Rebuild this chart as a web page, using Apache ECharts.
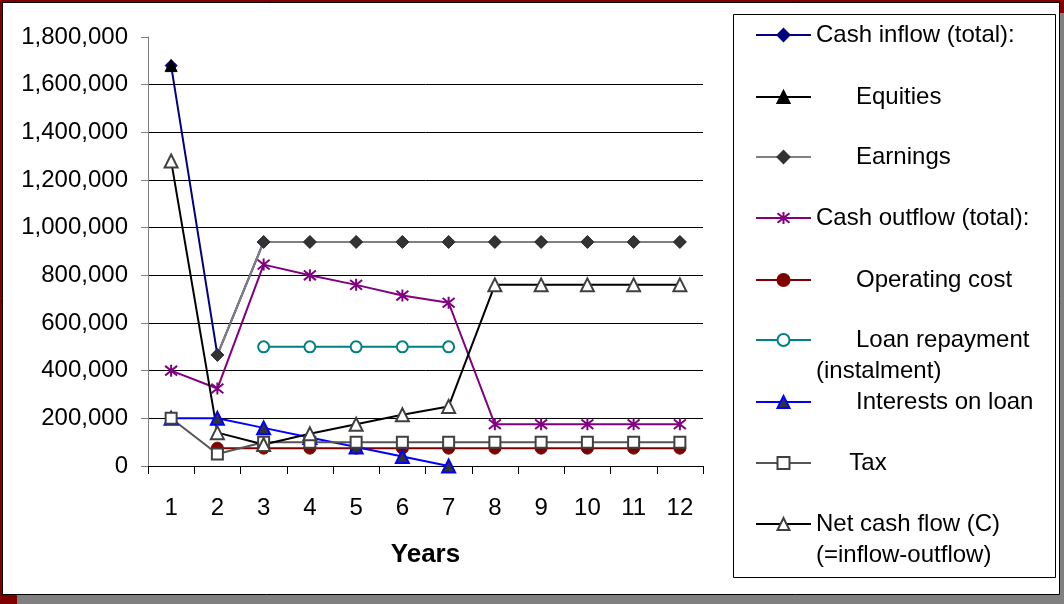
<!DOCTYPE html>
<html>
<head>
<meta charset="utf-8">
<script src="https://cdn.jsdelivr.net/npm/echarts@6/dist/echarts.min.js"></script>
<style>
html,body{margin:0;padding:0;background:#fff;}
#c{width:1064px;height:604px;}
</style>
</head>
<body>
<div id="c"></div>
<script>
// ---- data ----
var years = ['1','2','3','4','5','6','7','8','9','10','11','12'];
var cashInflow   = [1680000, 466000, 940000, 940000, 940000, 940000, 940000, 940000, 940000, 940000, 940000, 940000];
var equities     = [1680000, null, null, null, null, null, null, null, null, null, null, null];
var earnings     = [null, 466000, 940000, 940000, 940000, 940000, 940000, 940000, 940000, 940000, 940000, 940000];
var cashOutflow  = [400000, 325000, 845000, 800000, 760000, 715000, 685000, 175000, 175000, 175000, 175000, 175000];
var operatingCost= [null, 75000, 75000, 75000, 75000, 75000, 75000, 75000, 75000, 75000, 75000, 75000];
var loanRepayment= [null, null, 500000, 500000, 500000, 500000, 500000, null, null, null, null, null];
var interests    = [200000, 200000, 160000, 120000, 80000, 40000, 0, null, null, null, null, null];
var tax          = [200000, 50000, 100000, 100000, 100000, 100000, 100000, 100000, 100000, 100000, 100000, 100000];
var netCashFlow  = [1280000, 140000, 90000, 135000, 175000, 215000, 250000, 760000, 760000, 760000, 760000, 760000];
var yTicks = [0, 200000, 400000, 600000, 800000, 1000000, 1200000, 1400000, 1600000, 1800000];
var seriesNames = ['Cash inflow (total):', 'Equities', 'Earnings', 'Cash outflow (total):', 'Operating cost',
                   'Loan repayment (instalment)', 'Interests on loan', 'Tax', 'Net cash flow (C) (=inflow-outflow)'];
var legendLabels = ['Cash inflow (total):', '      Equities', '      Earnings', 'Cash outflow (total):', '      Operating cost',
                    '\n      Loan repayment\n(instalment)', '      Interests on loan', '     Tax', '\nNet cash flow (C)\n(=inflow-outflow)'];
var xAxisName = 'Years';

// ---- layout ----
var FONT = 'Liberation Sans, Arial, sans-serif';
var legendCenters = [35, 97, 157, 218, 280, 340, 402, 463, 524];
var LH = 31;
var asterisk = 'path://M10,0L10,20M1,2L19,18M1,18L19,2';

function fmt(v){ return String(v).replace(/\B(?=(\d{3})+(?!\d))/g, ','); }

var styles = [
  {data: cashInflow, line:'#000080', symbol:'diamond', size:12, fill:'#000080', border:'#000080', bw:1},
  {data: equities, line:'#000000', symbol:'triangle', size:12, fill:'#000000', border:'#000000', bw:1},
  {data: earnings, line:'#808080', symbol:'diamond', size:13, fill:'#333333', border:'#333333', bw:1},
  {data: cashOutflow, line:'#800080', symbol:asterisk, size:12, fill:'#800080', border:'#800080', bw:2},
  {data: operatingCost, line:'#800000', symbol:'circle', size:12, fill:'#800000', border:'#800000', bw:1},
  {data: loanRepayment, line:'#008080', symbol:'circle', size:11, fill:'#ffffff', border:'#008080', bw:2},
  {data: interests, line:'#0000ff', symbol:'triangle', size:13, fill:'#333333', border:'#0000ff', bw:2},
  {data: tax, line:'#555555', symbol:'rect', size:11, fill:'#ffffff', border:'#404040', bw:2},
  {data: netCashFlow, line:'#000000', symbol:'triangle', size:13, fill:'#ffffff', border:'#404040', bw:2}
];

var series = styles.map(function(s, i){
  return {
    name: seriesNames[i],
    type: 'line',
    data: s.data,
    symbol: s.symbol,
    symbolSize: s.size,
    showAllSymbol: true,
    connectNulls: false,
    lineStyle: {color: s.line, width: 2},
    itemStyle: {color: s.fill, borderColor: s.border, borderWidth: s.bw},
    emphasis: {disabled: true}
  };
});

var legends = seriesNames.map(function(n, i){
  var multi = legendLabels[i].indexOf('\n') >= 0;
  var h = multi ? LH * 3 : LH;
  return {
    data: [n],
    orient: 'vertical',
    left: 755,
    top: legendCenters[i] - h / 2,
    padding: 0,
    itemWidth: 55,
    itemHeight: 15,
    itemGap: 0,
    formatter: function(){ return legendLabels[i]; },
    textStyle: {fontFamily: FONT, fontSize: 24, color: '#000', lineHeight: LH}
  };
});

var chart = echarts.init(document.getElementById('c'), null, {renderer: 'canvas'});
chart.setOption({
  animation: false,
  backgroundColor: '#ffffff',
  graphic: [
    {type:'rect', z:-30, silent:true, shape:{x:0,y:0,width:1064,height:604}, style:{fill:'#800000'}},
    {type:'rect', z:-29, silent:true, shape:{x:17,y:13,width:1047,height:591}, style:{fill:'#808080'}},
    {type:'rect', z:-28, silent:true, shape:{x:2.5,y:2.5,width:1057,height:592}, style:{fill:'#ffffff', stroke:'#000000', lineWidth:1}},
    {type:'rect', z:-27, silent:true, shape:{x:733.5,y:14.5,width:322,height:563}, style:{fill:'#ffffff', stroke:'#000000', lineWidth:1}}
  ],
  grid: {left: 148, right: 361, top: 37, bottom: 138, containLabel: false},
  legend: legends,
  xAxis: {
    type: 'category',
    data: years,
    boundaryGap: true,
    name: xAxisName,
    nameLocation: 'middle',
    nameGap: 76,
    nameTextStyle: {fontFamily: FONT, fontSize: 26, fontWeight: 'bold', color: '#000'},
    axisLine: {lineStyle: {color: '#000', width: 1}},
    axisTick: {show: true, alignWithLabel: false, interval: 0, length: 8, lineStyle: {color: '#000'}},
    axisLabel: {fontFamily: FONT, fontSize: 24, color: '#000', margin: 30, interval: 0},
    splitLine: {show: false}
  },
  yAxis: {
    type: 'value',
    min: yTicks[0],
    max: yTicks[yTicks.length - 1],
    interval: yTicks[1] - yTicks[0],
    axisLine: {show: true, lineStyle: {color: '#808080', width: 1}},
    axisTick: {show: true, length: 7, lineStyle: {color: '#808080'}},
    axisLabel: {fontFamily: FONT, fontSize: 24, color: '#000', margin: 20, formatter: fmt},
    splitLine: {show: true, showMaxLine: false, lineStyle: {color: '#000', width: 1}}
  },
  series: series
});
</script>
</body>
</html>
